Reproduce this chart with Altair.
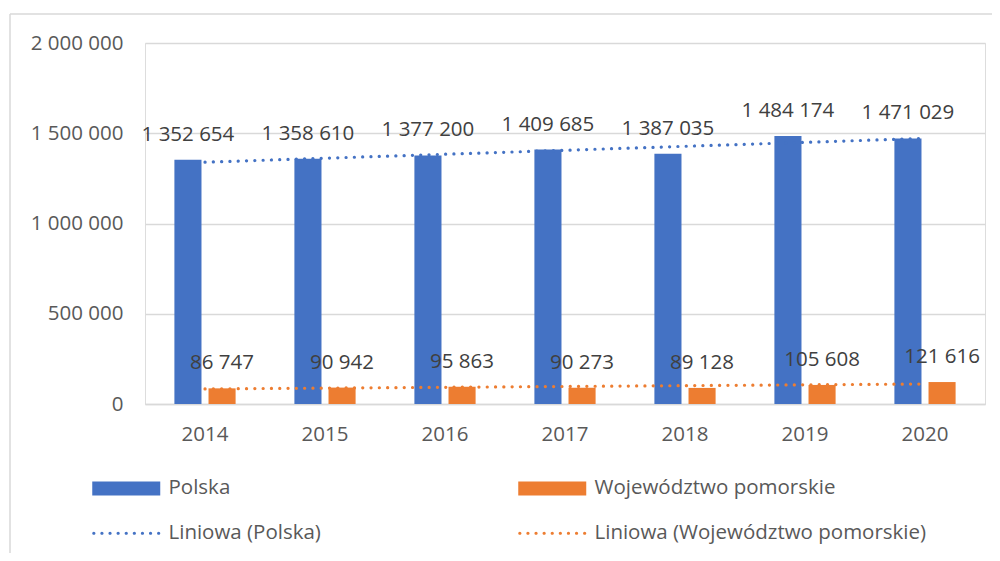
import altair as alt
import pandas as pd
import numpy as np

years = ["2014", "2015", "2016", "2017", "2018", "2019", "2020"]
polska = [1352654, 1358610, 1377200, 1409685, 1387035, 1484174, 1471029]
pomorskie = [86747, 90942, 95863, 90273, 89128, 105608, 121616]
series_names = ["Polska", "Województwo pomorskie"]
trend_names = ["Liniowa (Polska)", "Liniowa (Województwo pomorskie)"]
y_ticks = [0, 500000, 1000000, 1500000, 2000000]

BLUE = "#4472C4"
ORANGE = "#ED7D31"
GRID = "#D9D9D9"
AXIS_TXT = "#595959"
LABEL_TXT = "#404040"
FONT = "Open Sans"
FS = 20.5

rows = []
for s, vals in zip(series_names, [polska, pomorskie]):
    for yr, v in zip(years, vals):
        rows.append({"year": yr, "series": s, "value": v})
bars_df = pd.DataFrame(rows)

# linear trendlines (least squares over the category index), like Excel's "Liniowa"
trend_rows = []
idx = np.arange(len(years))
for s, t, vals in zip(series_names, trend_names, [polska, pomorskie]):
    k, b = np.polyfit(idx, np.array(vals, dtype=float), 1)
    for i, yr in enumerate(years):
        trend_rows.append({"year": yr, "series": s, "legend": t, "trend": k * i + b})
trend_df = pd.DataFrame(trend_rows)

legend_domain = series_names + trend_names

# legend symbol shapes: wide rectangle for bars, row of dots for trendlines
rect_path = "M-4.857,-1H4.857V1H-4.857Z"
r = 0.23
dot_parts = []
for i in range(9):
    cx = -4.63 + i * 1.1575
    dot_parts.append(
        f"M{cx - r:.3f},0A{r},{r} 0 1,0 {cx + r:.3f},0A{r},{r} 0 1,0 {cx - r:.3f},0Z"
    )
dot_path = "".join(dot_parts)

x_enc = alt.X(
    "year:N",
    sort=years,
    scale=alt.Scale(paddingInner=0.49, paddingOuter=0.245),
    axis=alt.Axis(
        title=None,
        labelAngle=0,
        labelFont=FONT,
        labelFontSize=FS,
        labelColor=AXIS_TXT,
        labelPadding=20,
        ticks=False,
        domainColor=GRID,
        domainWidth=1.3,
        grid=False,
    ),
)
y_enc = alt.Y(
    "value:Q",
    scale=alt.Scale(domain=[0, 2000000], nice=False),
    axis=alt.Axis(
        title=None,
        values=y_ticks,
        format=",d",
        labelFont=FONT,
        labelFontSize=FS,
        labelColor=AXIS_TXT,
        labelPadding=22,
        domain=False,
        ticks=False,
        grid=True,
        gridColor=GRID,
        gridWidth=1.3,
    ),
)
xoff = alt.XOffset(
    "series:N", sort=series_names, scale=alt.Scale(paddingInner=0.206, paddingOuter=0)
)

bars = alt.Chart(bars_df).mark_bar().encode(
    x=x_enc,
    xOffset=xoff,
    y=y_enc,
    fill=alt.Fill(
        "series:N",
        scale=alt.Scale(domain=series_names, range=[BLUE, ORANGE]),
        legend=None,
    ),
)

labels = alt.Chart(bars_df).mark_text(
    dy=-19, baseline="alphabetic", align="center", font=FONT, fontSize=FS, color=LABEL_TXT
).encode(
    x=alt.X("year:N", sort=years),
    xOffset=alt.XOffset("series:N", sort=series_names),
    y=alt.Y("value:Q"),
    text=alt.Text("value:Q", format=",d"),
)

lines = alt.Chart(trend_df).mark_line(
    strokeDash=[0.1, 8.2], strokeCap="round", strokeWidth=3.2
).encode(
    x=alt.X("year:N", sort=years),
    y=alt.Y("trend:Q"),
    stroke=alt.Stroke(
        "series:N",
        scale=alt.Scale(domain=series_names, range=[BLUE, ORANGE]),
        legend=None,
    ),
)

leg = alt.Legend(
    title=None,
    orient="none",
    direction="horizontal",
    legendX=-29,
    legendY=435,
    columns=2,
    columnPadding=197,
    rowPadding=24,
    labelOffset=32,
    labelFont=FONT,
    labelFontSize=FS,
    labelColor=AXIS_TXT,
    labelLimit=600,
    symbolSize=196,
    symbolStrokeWidth=0,
    symbolOpacity=1,
    padding=0,
)

legend_layer = alt.Chart(trend_df).transform_filter("false").mark_point(
    filled=True, size=196
).encode(
    x=alt.X("year:N", sort=years),
    y=alt.Y("trend:Q"),
    color=alt.Color(
        "legend:N",
        scale=alt.Scale(domain=legend_domain, range=[BLUE, ORANGE, BLUE, ORANGE]),
        legend=leg,
    ),
    shape=alt.Shape(
        "legend:N",
        scale=alt.Scale(domain=legend_domain, range=[rect_path, rect_path, dot_path, dot_path]),
        legend=leg,
    ),
)

# light chart-area frame (left and top edges visible in the reference)
frame_df = pd.DataFrame({"f": [0]})
frame_left = alt.Chart(frame_df).mark_rule(color=GRID, strokeWidth=1.5).encode(
    x=alt.value(-135), y=alt.value(-29), y2=alt.value(700)
)
frame_top = alt.Chart(frame_df).mark_rule(color=GRID, strokeWidth=1.5).encode(
    x=alt.value(-135), x2=alt.value(1100), y=alt.value(-29)
)

chart = (
    alt.layer(frame_left, frame_top, bars, lines, labels, legend_layer)
    .properties(
        width=840,
        height=361,
        autosize="none",
        padding={"left": 137, "top": 35, "right": 7, "bottom": 149},
        background="white",
    )
    .configure_view(stroke=None)
    .configure(
        locale={
            "number": {
                "decimal": ",",
                "thousands": " ",
                "grouping": [3],
                "currency": ["", " zł"],
            }
        }
    )
)

chart.save("out.html", embed_options={"renderer": "svg", "actions": False})
